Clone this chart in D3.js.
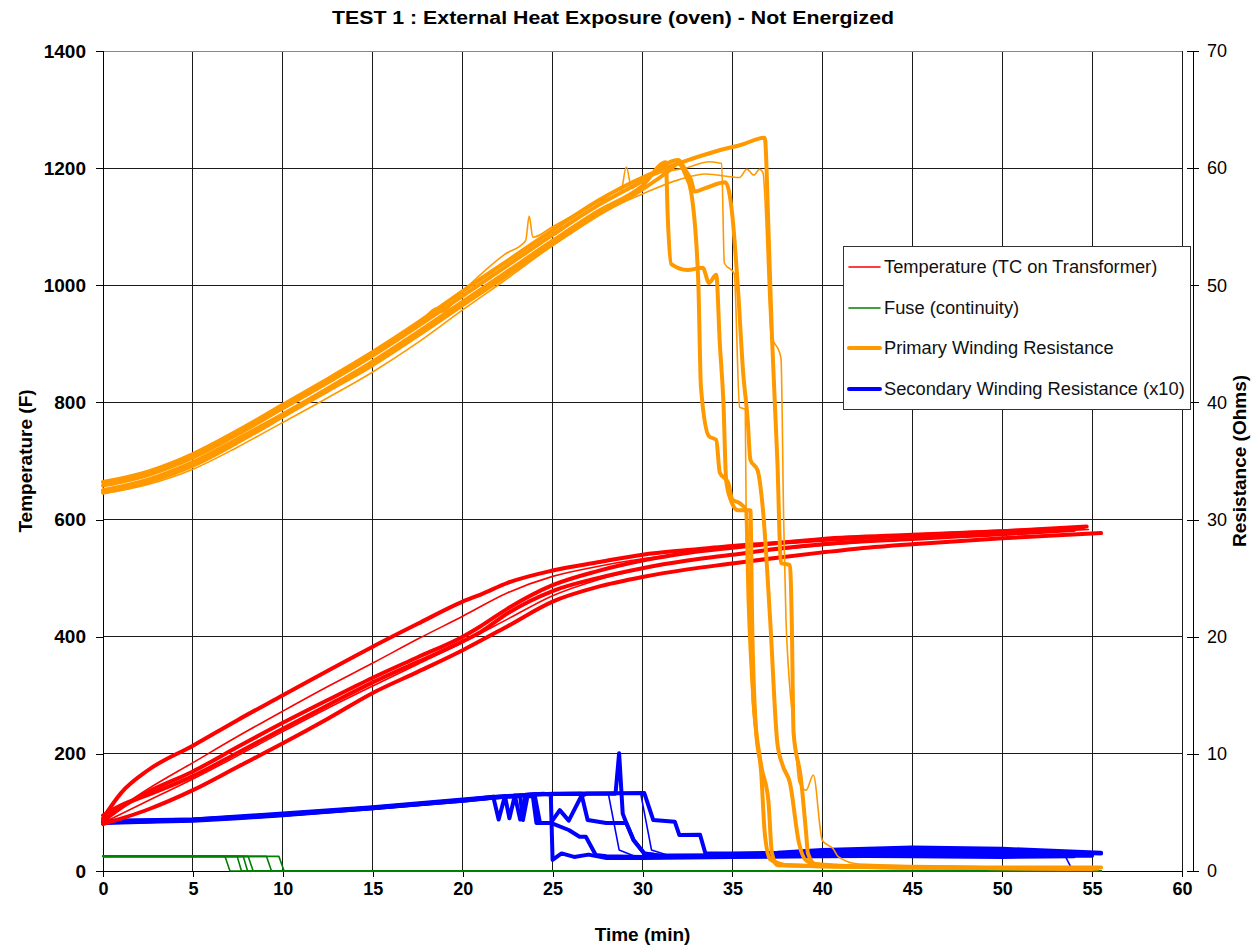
<!DOCTYPE html>
<html><head><meta charset="utf-8">
<script src="https://cdn.jsdelivr.net/npm/d3@7"></script>
<style>body{margin:0;background:#fff} text{font-family:Arial,"Liberation Sans",sans-serif}</style>
</head><body><svg id="c" width="1251" height="948"></svg>
<script>
// ---------------- DATA ----------------
const chartTitle = "TEST 1 : External Heat Exposure (oven) - Not Energized";
const xTicks = [0,5,10,15,20,25,30,35,40,45,50,55,60];
const yLeftTicks = [0,200,400,600,800,1000,1200,1400];
const yRightTicks = [0,10,20,30,40,50,60,70];
const legendLabels = ["Temperature (TC on Transformer)","Fuse (continuity)","Primary Winding Resistance","Secondary Winding Resistance (x10)"];

// Temperature (F), left axis: [time min, value]
const temp1 = [[0,90],[1,133],[2.5,172],[5,214],[7.5,258],[10,300],[12.5,342],[15,383],[17.5,422],[20,460],[21,472],[22.5,492],[25,513],[27.5,527],[30,540],[32.5,548],[35,555],[37.5,560],[40,565],[45,573],[50,580],[54.7,588]];
const temp2 = [[0,80],[2.5,105],[5,138],[7.5,178],[10,218],[12.5,260],[15,304],[17.5,340],[20,377],[22.5,418],[25,460],[27.5,485],[30,502],[32.5,515],[35,525],[37.5,535],[40,544],[42.5,552],[45,558],[50,568],[55.5,577]];
const temp3 = [[0,85],[1,108],[2.5,135],[5,170],[7.5,212],[10,253],[12.5,292],[15,330],[17.5,365],[20,400],[21,418],[22.5,448],[25,488],[27.5,512],[30,530],[32.5,543],[35,552],[37.5,560],[40,567],[45,574],[50,580],[54.5,586]];
const temp4 = [[0,95],[1,112],[2.5,130],[5,162],[7.5,202],[10,243],[12.5,283],[15,322],[17.5,357],[20,392],[21,408],[22.5,440],[25,478],[27.5,500],[30,517],[32.5,530],[35,540],[37.5,550],[40,558],[45,567],[50,575],[54,582]];
const temp5 = [[0,88],[2.5,140],[5,185],[7.5,230],[10,273],[12.5,315],[15,355],[17.5,396],[20,435],[22.5,475],[25,503],[27.5,520],[30,533],[35,552],[40,564],[45,572],[50,579],[53.5,586]];
const temp6 = [[0,82],[2.5,120],[5,157],[7.5,197],[10,238],[12.5,278],[15,316],[17.5,353],[20,390],[22.5,430],[25,470],[27.5,497],[30,516],[35,540],[40,556],[45,567],[50,575],[54.8,583]];

// Fuse (continuity), left axis
const fuse1 = [[0,25],[6.78,25],[7.06,0],[55.5,0]];
const fuse2 = [[0,25],[7.46,25],[7.70,0],[55.5,0]];
const fuse3 = [[0,25],[7.80,25],[8.04,0],[55.5,0]];
const fuse4 = [[0,25],[8.07,25],[8.35,0],[55.5,0]];
const fuse5 = [[0,25],[9.09,25],[9.37,0],[55.5,0]];
const fuse6 = [[0,25],[9.78,25],[10.07,0],[55.5,0]];

// Primary winding resistance (Ohms), right axis
const prim1 = [[0,33.2],[2.5,34.1],[5,35.6],[7.5,37.6],[10,39.8],[12.5,42.0],[15,44.3],[17.5,46.8],[20,49.5],[22.5,52.1],[25,54.7],[27.5,57.2],[30,59.2],[32,60.4],[34,61.4],[35.5,62.0],[36.8,62.6],[37.0,55],[37.2,45.6],[37.5,35],[37.7,26.3],[38.2,26.1],[38.3,21.4],[38.4,11.8],[38.8,8.0],[39.1,3.2],[39.2,1.5],[39.6,0.6],[42,0.4],[50,0.3],[55.5,0.3]];
const prim2 = [[0,32.9],[2.5,33.8],[5,35.3],[7.5,37.3],[10,39.5],[12.5,41.7],[15,44.0],[17.5,46.5],[20,49.1],[22.5,51.7],[25,54.3],[27.5,56.8],[30,58.9],[32,60.7],[32.4,59.8],[32.7,59.0],[32.9,58.0],[33.5,58.3],[34.6,58.8],[35.0,55.9],[35.3,49.9],[35.6,42.5],[35.85,38.5],[36.0,35.1],[36.4,34.2],[36.7,30.8],[37.1,21.4],[37.5,10.9],[37.8,9.0],[38.2,7.5],[38.7,2.4],[39.1,0.9],[40,0.5],[45,0.3],[55.3,0.2]];
const prim3 = [[0,32.5],[2.5,33.4],[5,34.9],[7.5,36.9],[10,39.0],[12.5,41.2],[15,43.5],[17.5,46.0],[20,48.6],[22.5,51.2],[25,53.8],[27.5,56.3],[30,58.5],[31.3,60.5],[31.4,56],[31.6,51.8],[32.5,51.3],[33.35,51.5],[33.7,50.2],[34.1,50.9],[34.3,45],[34.5,40],[34.65,33.4],[34.9,31.7],[35.3,30.8],[36.0,30.8],[36.1,21],[36.3,12.3],[36.6,8.4],[36.8,3.2],[37.1,1.0],[38,0.5],[45,0.3],[55,0.2]];
const prim4 = [[0,32.3],[2.5,33.2],[5,34.6],[7.5,36.6],[10,38.8],[12.5,41.0],[15,43.2],[17.5,45.7],[20,48.3],[22.5,50.9],[25,53.5],[27.5,56.0],[30,58.2],[31.5,59.8],[32.0,60.4],[32.4,59.4],[32.7,58.0],[33.1,50.4],[33.25,41.3],[33.7,37.1],[34.1,36.8],[34.3,34.0],[34.75,33.2],[35.0,31.7],[35.4,31.4],[35.76,30.8],[35.9,23],[36.2,14],[36.6,9],[37.0,6],[37.2,1.5],[37.5,0.5],[45,0.3],[55,0.2]];
const prim5 = [[0,33.0],[2.5,33.9],[5,35.4],[7.5,37.4],[10,39.6],[12.5,41.8],[15,44.1],[17.5,46.6],[18.6,48.1],[18.8,47.7],[20,49.5],[22.3,52.6],[23.5,53.8],[23.7,55.9],[23.9,54.1],[25,55.0],[27.5,57.1],[28.8,58.0],[29.1,60.1],[29.4,58.3],[30,58.9],[31,59.6],[32.4,60.0],[33.7,60.55],[34.4,60.4],[34.55,51.9],[35.1,51.0],[35.4,39.6],[35.7,39.4],[35.8,26],[35.95,23],[36.1,14.6],[36.6,8.4],[36.8,3.5],[37.1,1.2],[38,0.6],[45,0.3],[54.5,0.2]];
const prim6 = [[0,32.2],[2.5,33.0],[5,34.3],[7.5,36.2],[10,38.3],[12.5,40.4],[15,42.6],[17.5,45.1],[20,47.9],[22.5,50.6],[25,53.4],[27.5,56.0],[30,57.8],[32,59.0],[33.5,59.5],[35.4,59.2],[35.8,59.9],[36.2,59.4],[36.5,59.9],[36.7,59.6],[37.15,45.9],[37.7,43.8],[37.85,30],[37.98,21.4],[38.5,10.9],[38.7,7.6],[39.1,6.9],[39.5,8.2],[40.0,2.6],[40.6,1.9],[40.9,1.2],[42,0.6],[50,0.3],[55.3,0.3]];

// Secondary winding resistance x10 (Ohms), right axis
const sec1 = [[0,4.2],[2.5,4.25],[5,4.35],[7.5,4.55],[10,4.8],[12.5,5.1],[15,5.4],[17.5,5.7],[20,6.05],[21.7,6.35],[22.0,4.4],[22.35,6.4],[22.6,4.5],[22.9,6.45],[23.2,4.4],[23.5,6.5],[24,6.55],[24.5,6.6],[24.9,6.5],[25.0,0.95],[25.5,1.5],[26.2,1.2],[27,1.4],[28,1.1],[30,1.1],[35,1.2],[40,1.25],[45,1.3],[50,1.3],[55,1.3]];
const sec2 = [[0,4.1],[2.5,4.2],[5,4.3],[7.5,4.5],[10,4.75],[12.5,5.05],[15,5.35],[17.5,5.7],[20,6.0],[22,6.3],[23.2,6.4],[23.35,4.35],[23.6,6.35],[23.9,6.4],[24.1,4.1],[24.9,4.1],[25.4,5.2],[25.9,4.3],[26.6,6.4],[26.9,6.6],[28.5,6.6],[28.7,10.05],[28.9,4.9],[29.1,4.1],[29.5,2.65],[30.1,1.5],[31,1.3],[35,1.35],[40,1.6],[45,1.8],[50,1.75],[55.5,1.5]];
const sec3 = [[0,4.3],[5,4.4],[10,4.9],[15,5.45],[20,6.1],[22,6.35],[24.0,6.5],[24.3,4.1],[24.9,4.1],[25.9,3.5],[26.5,2.93],[26.85,2.93],[27.4,1.37],[28,1.25],[30,1.2],[35,1.25],[40,1.3],[45,1.25],[50,1.2],[54,1.25]];
const sec4 = [[0,4.15],[5,4.35],[10,4.85],[15,5.4],[20,6.05],[22,6.3],[24,6.55],[26.6,6.6],[26.95,4.35],[27.98,4.1],[29.1,4.1],[29.5,2.65],[30.1,1.5],[31,1.3],[35,1.3],[40,1.4],[45,1.5],[50,1.6],[54.5,1.6]];
const sec5 = [[0,4.2],[5,4.4],[10,4.85],[15,5.4],[20,6.1],[24,6.5],[28.1,6.6],[28.7,1.8],[29.5,1.3],[35,1.25],[40,1.2],[45,1.3],[50,1.3],[53.5,1.3],[53.8,0.4]];
const sec6 = [[0,4.2],[5,4.4],[10,4.8],[15,5.35],[20,6.0],[22.5,6.4],[25,6.6],[30.1,6.65],[30.6,4.35],[31.8,4.2],[32.05,3.07],[33.2,3.1],[33.5,1.5],[35,1.5],[37.5,1.55],[40,1.8],[42.5,1.9],[45,2.0],[50,1.9],[55.5,1.55]];
const sec7 = [[24,6.55],[27,6.6],[29.9,6.6],[30.5,1.8],[31.5,1.3]];

const tempRuns = [temp1,temp2,temp3,temp4,temp5,temp6];
const fuseRuns = [fuse1,fuse2,fuse3,fuse4,fuse5,fuse6];
const primRuns = [prim1,prim2,prim3,prim4,prim5,prim6];
const secRuns  = [sec1,sec2,sec3,sec4,sec5,sec6,sec7];

// line styles (not data)
const THICK = 4, THIN = 1.6;
const tempWidths = [THICK,THICK,THICK,THICK,THIN,THIN];
const primWidths = [THICK,THICK,THICK,THICK,THIN,THIN];
const secWidths  = [THICK,THICK,THICK,THICK,THIN,THICK,THIN];

// ---------------- DRAW ----------------
const svg = d3.select('#c');
const L=103, R=1182, T=51, B=871;
const x  = d3.scaleLinear().domain([0,60]).range([L,R]);
const yL = d3.scaleLinear().domain([0,1400]).range([B,T]);
const yR = d3.scaleLinear().domain([0,70]).range([B,T]);

svg.append('rect').attr('width',1251).attr('height',948).attr('fill','#fff');

// gridlines
const g = svg.append('g').attr('shape-rendering','crispEdges');
g.selectAll('.vg').data(xTicks.filter(d=>d>0)).enter().append('line')
  .attr('x1',d=>x(d)).attr('x2',d=>x(d)).attr('y1',T).attr('y2',B)
  .attr('stroke','#1a1a1a').attr('stroke-width',1);
g.selectAll('.hg').data(yLeftTicks.filter(d=>d>0)).enter().append('line')
  .attr('x1',L).attr('x2',R).attr('y1',d=>yL(d)).attr('y2',d=>yL(d))
  .attr('stroke',d=>d===1400?'#888':'#1a1a1a').attr('stroke-width',1);

// axes
const axL = svg.append('g').attr('transform',`translate(${L},0)`).call(d3.axisLeft(yL).tickValues(yLeftTicks).tickSize(7).tickPadding(10).tickFormat(d3.format('d')));
axL.selectAll('text').attr('font-weight','bold').attr('font-size','19px').attr('fill','#000');
const axB = svg.append('g').attr('transform',`translate(0,${B})`).call(d3.axisBottom(x).tickValues(xTicks).tickSize(6).tickPadding(5));
axB.selectAll('text').attr('font-weight','bold').attr('font-size','18px').attr('fill','#000');
const axR = svg.append('g').attr('transform',`translate(${R+11},0)`).call(d3.axisRight(yR).tickValues(yRightTicks).tickSize(6).tickPadding(8));
axR.selectAll('.tick line').attr('x1',-6);
axR.selectAll('text').attr('font-size','18px').attr('fill','#000');
[axL,axB,axR].forEach(a=>{a.selectAll('path,line').attr('stroke','#000').attr('shape-rendering','crispEdges'); a.attr('font-family',null);});
axR.select('.domain').attr('d',`M0,${T}V${B}`);
axL.select('.domain').attr('d',`M0,${T}V${B}`);
axB.select('.domain').attr('d',`M${L},0H${R}`);

// series
const lineLs = d3.line().curve(d3.curveMonotoneX).x(d=>x(d[0])).y(d=>yL(d[1]));
const lineRs = d3.line().curve(d3.curveMonotoneX).x(d=>x(d[0])).y(d=>yR(d[1]));
const lineL = d3.line().x(d=>x(d[0])).y(d=>yL(d[1]));
const lineR = d3.line().x(d=>x(d[0])).y(d=>yR(d[1]));
const series = svg.append('g').attr('fill','none').attr('stroke-linejoin','round').attr('stroke-linecap','round');
function draw(runs,gen,color,widths){
  series.append('g').selectAll('path').data(runs).enter().append('path')
    .attr('d',gen).attr('stroke',color).attr('stroke-width',(d,i)=>widths[i]);
}
draw(fuseRuns,lineL,'#008000',fuseRuns.map(()=>THIN));
draw(secRuns,lineR,'#0000FF',secWidths);
draw(tempRuns,lineLs,'#FF0000',tempWidths);
draw(primRuns,lineRs,'#FF9900',primWidths);

// title
svg.append('text').attr('x',613).attr('y',24).attr('text-anchor','middle')
  .attr('font-weight','bold').attr('font-size','18px').attr('textLength',562).attr('lengthAdjust','spacingAndGlyphs')
  .text(chartTitle);
// axis titles
svg.append('text').attr('transform',`translate(32,${(T+B)/2}) rotate(-90)`).attr('text-anchor','middle')
  .attr('font-weight','bold').attr('font-size','19px').text('Temperature (F)');
svg.append('text').attr('transform',`translate(1246,${(T+B)/2}) rotate(-90)`).attr('text-anchor','middle')
  .attr('font-weight','bold').attr('font-size','19px').text('Resistance (Ohms)');
svg.append('text').attr('x',(L+R)/2).attr('y',941).attr('text-anchor','middle')
  .attr('font-weight','bold').attr('font-size','19px').text('Time (min)');

// legend
const lg = svg.append('g');
lg.append('rect').attr('x',843.5).attr('y',246.5).attr('width',347).attr('height',163)
  .attr('fill','#fff').attr('stroke','#333').attr('stroke-width',1);
const legColors = ['#FF0000','#008000','#FF9900','#0000FF'];
const legWidths = [THIN,THIN,THICK,THICK];
const legY = [267,308,348,389];
legendLabels.forEach((t,i)=>{
  lg.append('line').attr('x1',849).attr('x2',880).attr('y1',legY[i]).attr('y2',legY[i])
    .attr('stroke',legColors[i]).attr('stroke-width',legWidths[i]).attr('stroke-linecap','round');
  lg.append('text').attr('x',884).attr('y',legY[i]).attr('dy','0.35em').attr('font-size','18.3px').attr('fill','#111').text(t);
});
</script>
</body></html>
